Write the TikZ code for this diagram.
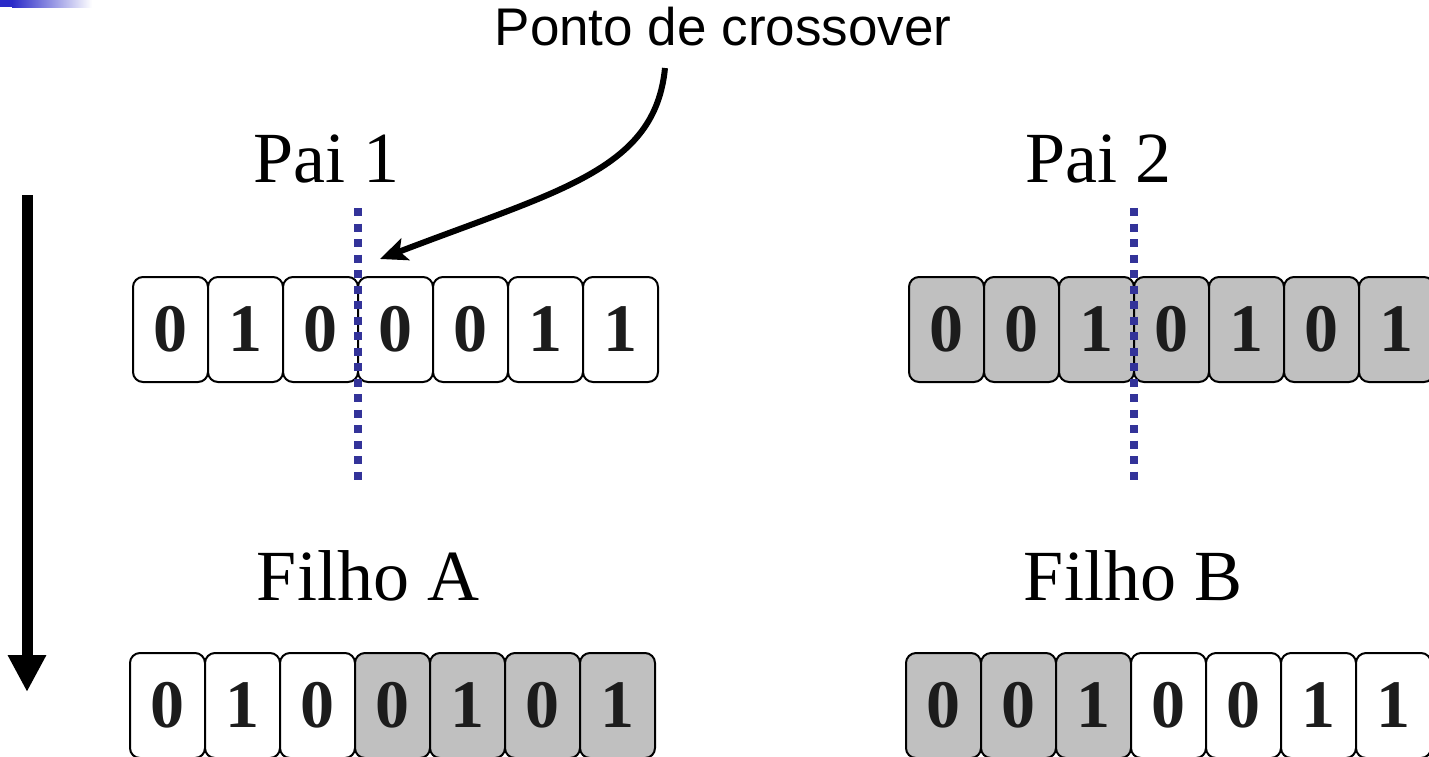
\documentclass[tikz,border=0pt]{standalone}
\usepackage{fontspec}
\setmainfont{Liberation Serif}
\newfontfamily\arialf{Liberation Sans}
\usetikzlibrary{arrows.meta}
\definecolor{dotblue}{HTML}{333399}
\definecolor{cellgray}{HTML}{C0C0C0}
\definecolor{barblue}{HTML}{2B2BC8}
\definecolor{digitblack}{HTML}{1C1C1C}
\tikzset{
  cell/.style={draw=black, line width=2pt, rounded corners=10pt, minimum width=75pt,
    minimum height=105pt, inner sep=0pt, text=digitblack,
    font=\fontsize{68}{68}\selectfont\bfseries},
  wcell/.style={cell, fill=white},
  gcell/.style={cell, fill=cellgray},
  title/.style={font=\fontsize{72}{72}\selectfont, anchor=base, inner sep=0pt},
  cutline/.style={draw=dotblue, line width=8pt, dash pattern=on 8pt off 7.5pt},
  bigarrow/.style={line width=11pt, -{Triangle[width=36pt,length=37pt]}},
  pointer/.style={line width=6pt, -{Stealth[length=27pt,width=23pt,inset=6pt]}},
}
\begin{document}
\begin{tikzpicture}[x=1pt,y=-1pt]
\useasboundingbox (0,0) rectangle (1429,756);
% top-left decorative bar
\fill[barblue] (0,0) rectangle (12,7);
\shade[left color=barblue, right color=white] (12,0) rectangle (92,7);

% titles
\node[title] (pai1) at (326,182) {Pai 1};
\node[title] (pai2) at (1098,182) {Pai 2};
\node[title] (filhoA) at (368,600) {Filho A};
\node[title] (filhoB) at (1133,600) {Filho B};
\node[font=\arialf\fontsize{53}{53}\selectfont, anchor=base, inner sep=0pt] (ponto) at (723,45) {Ponto de crossover};

% Pai 1
\foreach \b [count=\i from 0] in {0,1,0,0,0,1,1}
  \node[wcell] (pa\i) at (170.5+75*\i, 329.5) {\b};
% Pai 2
\foreach \b [count=\i from 0] in {0,0,1,0,1,0,1}
  \node[gcell] (pb\i) at (946.5+75*\i, 329.5) {\b};
% Filho A
\foreach \b [count=\i from 0] in {0,1,0}
  \node[wcell] (fa\i) at (167.5+75*\i, 705.5) {\b};
\foreach \b [count=\i from 3] in {0,1,0,1}
  \node[gcell] (fa\i) at (167.5+75*\i, 705.5) {\b};
% Filho B
\foreach \b [count=\i from 0] in {0,0,1}
  \node[gcell] (fb\i) at (943.5+75*\i, 705.5) {\b};
\foreach \b [count=\i from 3] in {0,0,1,1}
  \node[wcell] (fb\i) at (943.5+75*\i, 705.5) {\b};

% crossover cut lines
\coordinate (cutAtop) at (358,208);
\coordinate (cutAbot) at (358,485);
\coordinate (cutBtop) at (1134,208);
\coordinate (cutBbot) at (1134,485);
\draw[cutline] (cutAtop) -- (cutAbot);
\draw[cutline] (cutBtop) -- (cutBbot);

% pointer from label to cut point
\coordinate (ptrStart) at (665,68);
\coordinate (ptrEnd) at (380,259);
\draw[pointer] (ptrStart) .. controls (655,170) and (560,190) .. (ptrEnd);

% generation arrow
\coordinate (genTop) at (27,195);
\coordinate (genBot) at (27,692);
\draw[bigarrow] (genTop) -- (genBot);
\end{tikzpicture}
\end{document}
